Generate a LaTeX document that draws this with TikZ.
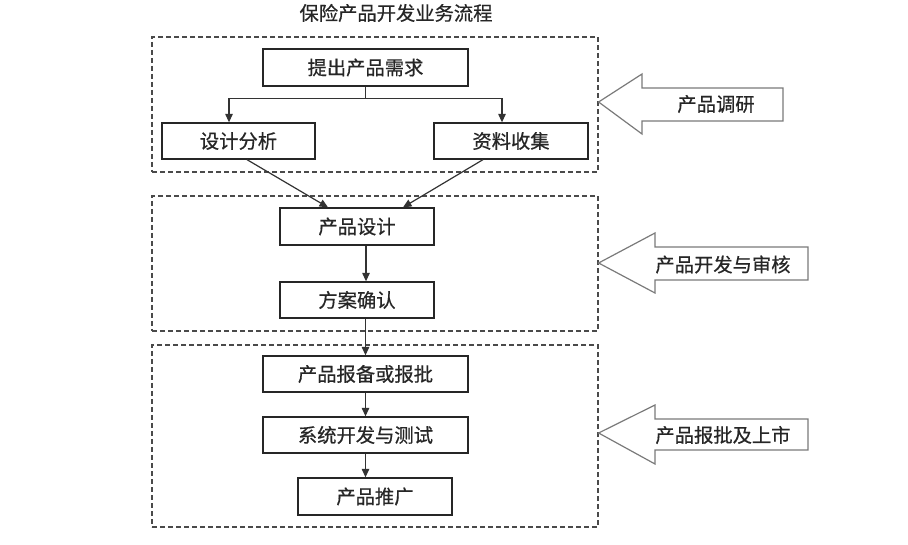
\documentclass[tikz,border=0pt]{standalone}
\usepackage{fontspec}
\newfontfamily\cjk[FakeBold=0.6]{Noto Sans CJK SC}
\usetikzlibrary{arrows.meta}
\definecolor{txt}{HTML}{262626}
\definecolor{dashc}{HTML}{4A4A4A}
\definecolor{blk}{HTML}{7A7A7A}
\begin{document}
\begin{tikzpicture}[x=1pt,y=-1pt,
  every node/.style={font=\cjk\fontsize{19.3}{21}\selectfont, text=txt, inner sep=0pt},
  box/.style={draw=black!85, line width=1.3pt, fill=white},
  grp/.style={draw=dashc, line width=1.2pt, dash pattern=on 5pt off 3pt},
  conn/.style={draw=black!80, line width=1.2pt, -{Triangle[length=8.5pt,width=7.5pt]}},
  blockarrow/.style={draw=blk, line width=1.2pt, fill=white, line join=miter}]
\useasboundingbox (0,0) rectangle (908,545);
% title
\node (title) at (396,13) {保险产品开发业务流程};
% dashed groups
\node[grp, minimum width=446pt, minimum height=135pt] (g1) at (375,104.5) {};
\node[grp, minimum width=446pt, minimum height=135pt] (g2) at (375,263.5) {};
\node[grp, minimum width=446pt, minimum height=182pt] (g3) at (375,436) {};
% boxes
\node[box, minimum width=205pt, minimum height=37pt] (A) at (365.5,67.5) {提出产品需求};
\node[box, minimum width=153pt, minimum height=36pt] (B) at (238.5,141) {设计分析};
\node[box, minimum width=154pt, minimum height=36pt] (C) at (511,141) {资料收集};
\node[box, minimum width=154pt, minimum height=37pt] (D) at (357,226.5) {产品设计};
\node[box, minimum width=154pt, minimum height=36pt] (E) at (357,300) {方案确认};
\node[box, minimum width=205pt, minimum height=36pt] (F) at (365.5,374) {产品报备或报批};
\node[box, minimum width=205pt, minimum height=36pt] (G) at (365.5,435) {系统开发与测试};
\node[box, minimum width=154pt, minimum height=37pt] (H) at (375,496.5) {产品推广};
% connectors
\draw[conn] (A.south) -- ++(0,12) -| ([xshift=-9.5pt]B.north);
\draw[conn] (A.south) -- ++(0,12) -| ([xshift=-9pt]C.north);
\draw[conn] ([xshift=8.5pt]B.south) -- ([xshift=-29pt]D.north);
\draw[conn] ([xshift=-28pt]C.south) -- ([xshift=46pt]D.north);
\draw[conn] ([xshift=9pt]D.south) -- ([xshift=9pt]E.north);
\draw[conn] (E.south -| F.north) -- (F.north);
\draw[conn] (F.south) -- (G.north);
\draw[conn] (G.south) -- (H.north -| G.south);
% block arrows
\draw[blockarrow] (g1.east |- 0,102) -- (642,74) -- (642,88) -- (783,88) -- (783,121) -- (642,121) -- (642,134) -- cycle;
\node (t1) at (716,104) {产品调研};
\draw[blockarrow] (g2.east |- 0,263) -- (655,233) -- (655,247) -- (808,247) -- (808,280) -- (655,280) -- (655,293) -- cycle;
\node (t2) at (723,264.5) {产品开发与审核};
\draw[blockarrow] (g3.east |- 0,433) -- (655,405) -- (655,419) -- (808,419) -- (808,450) -- (655,450) -- (655,464) -- cycle;
\node (t3) at (723,435) {产品报批及上市};
\end{tikzpicture}
\end{document}
